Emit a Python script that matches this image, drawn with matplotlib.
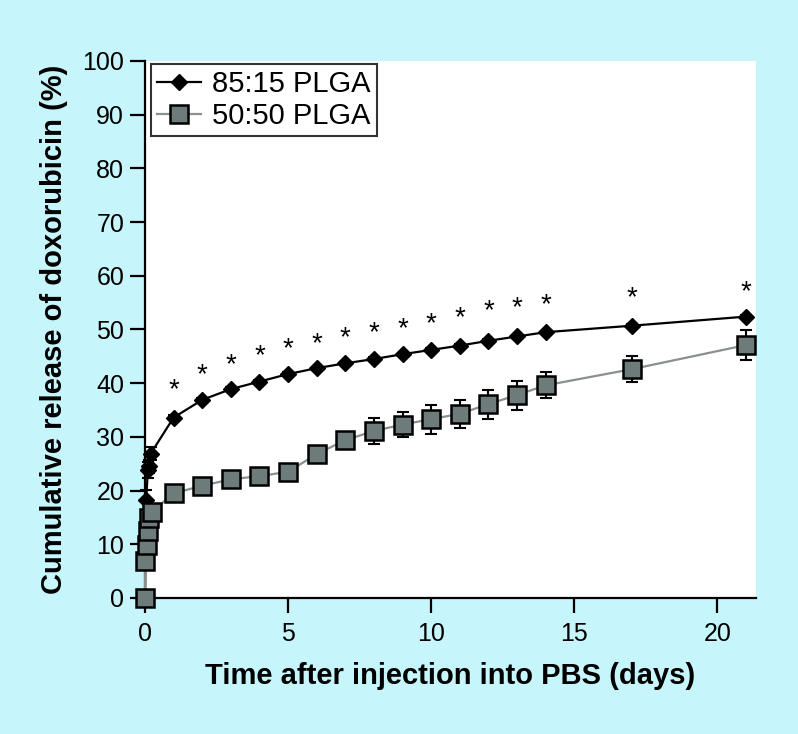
import matplotlib
matplotlib.use("Agg")
import matplotlib.pyplot as plt

# -----------------------------
# Data
# -----------------------------
t_8515 = [0, 0.04, 0.1, 0.15, 0.2, 1, 2, 3, 4, 5, 6, 7, 8, 9, 10, 11, 12, 13, 14, 17, 21]
rel_8515 = [0, 18.2, 23.8, 24.5, 26.9, 33.6, 36.9, 38.9, 40.3, 41.7, 42.8, 43.7, 44.5,
            45.4, 46.2, 47.0, 47.9, 48.7, 49.5, 50.7, 52.4]
err_8515 = [0, 1.9, 1.5, 1.2, 1.2, 0.4, 0.3, 0.3, 0.3, 0.3, 0.3, 0.3, 0.3,
            0.3, 0.3, 0.3, 0.3, 0.3, 0.3, 0.3, 0.3]

t_5050 = [0, 0.01, 0.07, 0.1, 0.14, 0.25, 1, 2, 3, 4, 5, 6, 7, 8, 9, 10, 11, 12, 13, 14, 17, 21]
rel_5050 = [0, 6.8, 9.9, 12.4, 14.9, 16.1, 19.5, 20.9, 22.1, 22.7, 23.5, 26.8, 29.4, 31.1,
            32.3, 33.3, 34.3, 36.1, 37.8, 39.6, 42.6, 47.1]
err_5050 = [0, 0.5, 0.5, 0.5, 0.5, 0.5, 0.5, 0.5, 0.5, 0.5, 0.5, 0.6, 0.4, 2.4,
            2.3, 2.7, 2.6, 2.7, 2.7, 2.4, 2.4, 2.8]

# significance marks (*) above the 85:15 curve
sig_t = [1, 2, 3, 4, 5, 6, 7, 8, 9, 10, 11, 12, 13, 14, 17, 21]
sig_y = [38.7, 41.5, 43.4, 45.1, 46.3, 47.3, 48.4, 49.3, 50.0, 51.0, 52.1, 53.4,
         53.9, 54.6, 55.8, 57.0]

xticks = [0, 5, 10, 15, 20]
yticks = list(range(0, 101, 10))

bg = "#c6f5fb"
sans = ["Liberation Sans", "DejaVu Sans"]

# -----------------------------
# Figure
# -----------------------------
fig = plt.figure(figsize=(7.98, 7.34), dpi=100, facecolor=bg)
ax = fig.add_axes([0.1817, 0.1853, 0.7657, 0.7316])
ax.set_facecolor("white")

ax.errorbar(t_8515, rel_8515, yerr=err_8515, fmt="none", ecolor="black",
            elinewidth=1.5, capsize=4, capthick=1.5, zorder=2, clip_on=False)
ax.plot(t_8515, rel_8515, color="black", lw=1.6, marker="D", ms=8.5,
        mfc="black", mec="black", zorder=3, clip_on=False, label="85:15 PLGA")

ax.errorbar(t_5050, rel_5050, yerr=err_5050, fmt="none", ecolor="black",
            elinewidth=1.5, capsize=4, capthick=1.5, zorder=4, clip_on=False)
ax.plot(t_5050, rel_5050, color="#8a8f8f", lw=1.6, marker="s", ms=13,
        mfc="#6e7b7b", mec="black", mew=1.8, zorder=5, clip_on=False,
        label="50:50 PLGA")

for x, y in zip(sig_t, sig_y):
    ax.text(x, y, "*", ha="center", va="center", fontsize=20,
            family=sans, color="black")

ax.set_xlim(0, 21.35)
ax.set_ylim(0, 100)
ax.set_xticks(xticks)
ax.set_yticks(yticks)

for s in ["top", "right"]:
    ax.spines[s].set_visible(False)
for s in ["left", "bottom"]:
    ax.spines[s].set_linewidth(1.6)

ax.tick_params(direction="out", length=11, width=1.6, pad=4)
ax.tick_params(axis="x", pad=6)
for lab in ax.get_xticklabels() + ax.get_yticklabels():
    lab.set_family(sans)
    lab.set_fontsize(18)

ax.set_xlabel("Time after injection into PBS (days)", family=sans,
              fontsize=21, fontweight="bold", labelpad=12)
ax.set_ylabel("Cumulative release of doxorubicin (%)", family=sans,
              fontsize=21, fontweight="bold", labelpad=10)

leg = ax.legend(loc="upper left", bbox_to_anchor=(0.005, 1.0), numpoints=1,
                prop={"family": sans, "size": 21}, frameon=True, fancybox=False,
                handlelength=1.5, handletextpad=0.4, borderpad=0.2,
                labelspacing=0.15, borderaxespad=0.1)
leg.get_frame().set_edgecolor("black")
leg.get_frame().set_linewidth(1.5)

fig.savefig("out.png", dpi=100, facecolor=bg)
